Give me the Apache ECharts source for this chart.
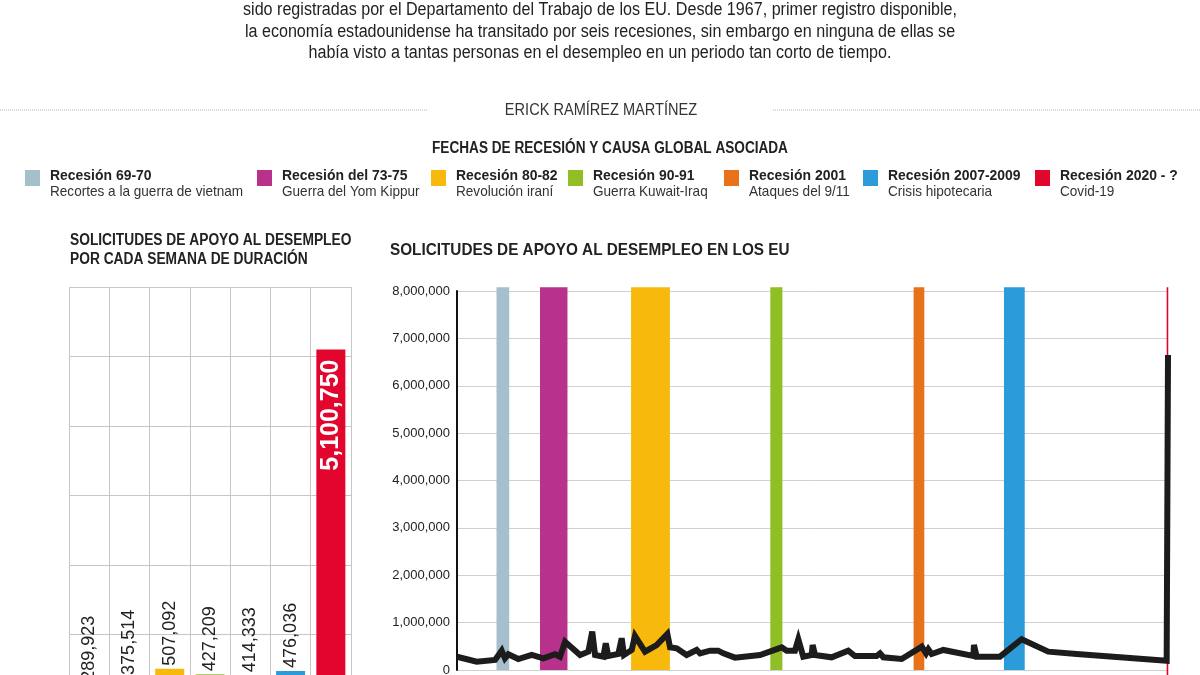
<!DOCTYPE html>
<html><head><meta charset="utf-8">
<script src="https://cdn.jsdelivr.net/npm/echarts@6/dist/echarts.min.js"></script>
<style>html,body{margin:0;padding:0;overflow:hidden;background:#fff}#c{width:1200px;height:720px}</style>
</head><body><div id="c"></div>
<script>
// ---------- DATA ----------
const introLines = [
  'sido registradas por el Departamento del Trabajo de los EU. Desde 1967, primer registro disponible,',
  'la economía estadounidense ha transitado por seis recesiones, sin embargo en ninguna de ellas se',
  'había visto a tantas personas en el desempleo en un periodo tan corto de tiempo.'
];
const byline = 'ERICK RAMÍREZ MARTÍNEZ';
const legendTitle = 'FECHAS DE RECESIÓN Y CAUSA GLOBAL ASOCIADA';
const leftTitle = ['SOLICITUDES DE APOYO AL DESEMPLEO', 'POR CADA SEMANA DE DURACIÓN'];
const rightTitle = 'SOLICITUDES DE APOYO AL DESEMPLEO EN LOS EU';

const recessionNames = ['Recesión 69-70','Recesión del 73-75','Recesión 80-82','Recesión 90-91','Recesión 2001','Recesión 2007-2009','Recesión 2020 - ?'];
const recessionCauses = ['Recortes a la guerra de vietnam','Guerra del Yom Kippur','Revolución iraní','Guerra Kuwait-Iraq','Ataques del 9/11','Crisis hipotecaria','Covid-19'];
const recessionColors = ['#a6bfcc','#b8318a','#f7b90c','#8fbe25','#e8721b','#2b9cd9','#e2062e'];
const recessionStart = [1969.95, 1973.2, 1980.0, 1990.4, 2001.1, 2007.85, 2020.0];
const recessionEnd   = [1970.9, 1975.25, 1982.9, 1991.3, 2001.9, 2009.4, 2020.1];

const weeklyClaims = [289923, 375514, 507092, 427209, 414333, 476036, 5100750];

const claimYears = [1967.0,1968.47,1969.84,1970.34,1970.58,1970.83,1971.58,1972.58,1973.45,1974.32,1974.69,1975.07,
  1976.19,1976.81,1977.1,1977.31,1977.93,1978.11,1978.3,1979.05,1979.3,1979.47,1980.05,1980.29,1981.04,1981.91,
  1982.71,1982.91,1983.41,1984.15,1984.9,1985.15,1985.89,1986.51,1986.89,1987.76,1989.63,1991.25,1991.62,1992.24,
  1992.49,1992.86,1993.49,1993.56,1993.74,1994.98,1996.22,1996.72,1998.34,1998.59,1998.84,2000.21,2001.71,2002.03,
  2002.2,2002.45,2003.32,2005.56,2005.61,2005.81,2007.55,2009.17,2011.16,2013.28,2017.51,2020.0,2020.1];
const claimValues = [280000,175000,211000,408000,247000,332000,232000,317000,247000,332000,281000,598000,
  317000,387000,810000,317000,281000,564000,296000,338000,670000,317000,423000,719000,387000,528000,
  761000,479000,458000,317000,423000,352000,408000,408000,352000,261000,317000,479000,408000,408000,
  648000,281000,317000,528000,317000,268000,408000,296000,296000,352000,268000,232000,493000,352000,
  437000,338000,423000,296000,528000,281000,281000,649000,387000,338000,247000,197000,6650000];

// ---------- LAYOUT ----------
const FONT = '"Liberation Sans", sans-serif';
const legendTextX = [50, 282, 456, 593, 749, 888, 1060];
const fmt = v => Number(v).toLocaleString('en-US');

function txt(x, y, text, font, fill, align, sx) {
  return {type:'text', x:x, y:y, scaleX:sx,
    style:{text:text, font:font + ' ' + FONT, fill:fill, align:align, verticalAlign:'middle'}};
}
const graphics = [];
introLines.forEach((t, i) => graphics.push(txt(600, [10,32,53][i], t, '18px', '#222', 'center', 0.895)));
graphics.push({type:'line', shape:{x1:0,y1:110,x2:428,y2:110}, style:{stroke:'#b8b8b8', lineWidth:1, lineDash:[1,1]}});
graphics.push({type:'line', shape:{x1:773,y1:110,x2:1200,y2:110}, style:{stroke:'#b8b8b8', lineWidth:1, lineDash:[1,1]}});
graphics.push(txt(601, 111, byline, '16px', '#333', 'center', 0.91));
graphics.push(txt(610, 149, legendTitle, 'bold 16px', '#222', 'center', 0.85));
recessionNames.forEach((n, i) => {
  const tx = legendTextX[i];
  graphics.push({type:'rect', shape:{x:tx-25, y:170, width:15, height:16}, style:{fill:recessionColors[i]}});
  graphics.push(txt(tx, 176, n, 'bold 15px', '#222', 'left', 0.93));
  graphics.push(txt(tx, 192, recessionCauses[i], '15px', '#333', 'left', 0.905));
});
leftTitle.forEach((t, i) => graphics.push(txt(70, [241,260][i], t, 'bold 16px', '#222', 'left', 0.86)));
graphics.push(txt(390, 250, rightTitle, 'bold 17px', '#222', 'left', 0.9));

const chart = echarts.init(document.getElementById('c'));
chart.setOption({
  backgroundColor:'#fff',
  animation:false,
  graphic: graphics,
  grid: [
    {left:69, top:287, width:282, height:417},
    {left:457, top:291, width:711, height:379}
  ],
  xAxis: [
    {gridIndex:0, type:'category', data:recessionNames, boundaryGap:true,
      axisLine:{show:false}, axisTick:{show:false}, axisLabel:{show:false},
      splitLine:{show:true, interval:0, lineStyle:{color:'#c6c6c6', width:1}}},
    {gridIndex:1, type:'value', min:1967, max:2020.1, show:false}
  ],
  yAxis: [
    {gridIndex:0, type:'value', min:0, max:6000000, interval:1000000,
      axisLine:{show:false}, axisTick:{show:false}, axisLabel:{show:false},
      splitLine:{lineStyle:{color:'#c6c6c6', width:1}}},
    {gridIndex:1, type:'value', min:0, max:8000000, interval:1000000,
      axisLine:{show:true, lineStyle:{color:'#111', width:2}}, axisTick:{show:false},
      axisLabel:{color:'#222', fontSize:13, fontFamily:FONT, margin:7, formatter: v => fmt(v)},
      splitLine:{lineStyle:{color:'#d0d0d0', width:1}}}
  ],
  series: [
    {type:'bar', xAxisIndex:0, yAxisIndex:0, barWidth:29,
      data: weeklyClaims.map((v, i) => {
        const d = {value:v, itemStyle:{color:recessionColors[i]}};
        if (i === weeklyClaims.length - 1) {
          d.label = {position:'insideTop', rotate:90, align:'right', verticalAlign:'middle', distance:10,
            color:'#fff', fontSize:25, fontWeight:'bold', fontFamily:FONT};
        }
        return d;
      }),
      label:{show:true, position:'top', rotate:90, align:'left', verticalAlign:'middle', distance:3,
        color:'#222', fontSize:18, fontFamily:FONT, formatter: p => fmt(p.value)}},
    {type:'custom', xAxisIndex:1, yAxisIndex:1, clip:false, silent:true, z:1,
      data: recessionStart.map((s, i) => [s, recessionEnd[i], i]),
      encode:{x:[0,1]},
      renderItem: (params, api) => {
        const i = api.value(2);
        const p0 = api.coord([api.value(0), 8080000]);
        const p1 = api.coord([api.value(1), i === 6 ? -110000 : 0]);
        return {type:'rect', shape:{x:p0[0], y:p0[1], width:Math.max(p1[0]-p0[0], 1.6), height:p1[1]-p0[1]},
          style:{fill:recessionColors[i]}};
      }},
    {type:'line', xAxisIndex:1, yAxisIndex:1, z:3, symbol:'none',
      data: claimYears.map((y, i) => [y, claimValues[i]]),
      lineStyle:{color:'#1c1c1c', width:6, join:'miter', miterLimit:4}}
  ]
});
</script></body></html>
